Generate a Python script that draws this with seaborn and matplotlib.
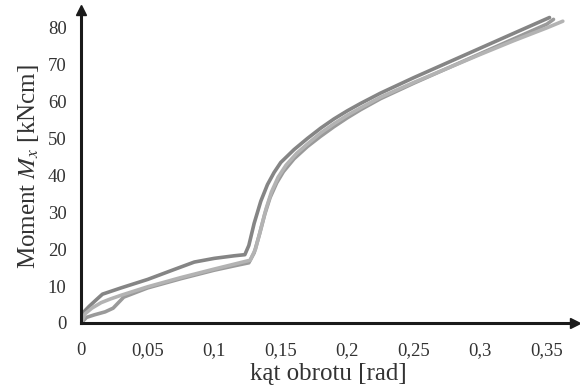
import matplotlib
matplotlib.use('Agg')
import matplotlib.pyplot as plt
import pandas as pd
import seaborn as sns

# three test specimens
x_a = [0, 0.002, 0.006, 0.012, 0.016, 0.03, 0.05, 0.07, 0.085, 0.1, 0.115, 0.123,
       0.126, 0.13, 0.135, 0.14, 0.145, 0.15, 0.16, 0.17, 0.18, 0.19, 0.2, 0.21,
       0.225, 0.25, 0.275, 0.3, 0.325, 0.352]
y_a = [0, 3, 4.5, 6.5, 7.8, 9.5, 11.8, 14.5, 16.5, 17.5, 18.2, 18.5,
       21, 27, 33, 37.5, 40.8, 43.5, 47, 50, 52.8, 55.3, 57.5, 59.5,
       62.3, 66.5, 70.5, 74.5, 78.5, 82.8]

x_b = [0, 0.004, 0.01, 0.018, 0.024, 0.028, 0.032, 0.05, 0.075, 0.1, 0.118, 0.126,
       0.13, 0.134, 0.138, 0.142, 0.147, 0.152, 0.16, 0.17, 0.18, 0.19, 0.2, 0.21,
       0.225, 0.25, 0.275, 0.3, 0.325, 0.35, 0.355]
y_b = [0, 1.5, 2.2, 3, 4, 5.5, 7, 9.5, 12, 14.3, 15.7, 16.3,
       19, 24, 29.5, 34, 38, 41, 44.5, 47.8, 50.6, 53.2, 55.6, 57.8,
       60.8, 65, 69, 73, 77, 81, 82.3]

x_c = [0, 0.003, 0.008, 0.015, 0.022, 0.03, 0.05, 0.075, 0.1, 0.118, 0.127, 0.131,
       0.135, 0.139, 0.143, 0.148, 0.154, 0.162, 0.17, 0.18, 0.19, 0.2, 0.21,
       0.225, 0.25, 0.275, 0.3, 0.325, 0.35, 0.362]
y_c = [0, 2.5, 4, 5.5, 6.5, 7.5, 9.8, 12.3, 14.6, 16.2, 17, 20,
       25.5, 31, 35.5, 39.5, 42.8, 46, 48.5, 51.5, 54, 56.3, 58.3,
       61.2, 65.2, 69, 72.8, 76.5, 80, 81.8]

x_ticks = [0, 0.05, 0.1, 0.15, 0.2, 0.25, 0.3, 0.35]
x_tick_labels = ['0', '0,05', '0,1', '0,15', '0,2', '0,25', '0,3', '0,35']
y_ticks = [0, 10, 20, 30, 40, 50, 60, 70, 80]

df = pd.concat([
    pd.DataFrame({'x': x_a, 'y': y_a, 'probka': 'A'}),
    pd.DataFrame({'x': x_b, 'y': y_b, 'probka': 'B'}),
    pd.DataFrame({'x': x_c, 'y': y_c, 'probka': 'C'}),
])

sns.set_style('white')
plt.rcParams['font.family'] = ['Liberation Serif', 'DejaVu Serif']
plt.rcParams['mathtext.fontset'] = 'stix'

fig = plt.figure(figsize=(5.8, 3.9), dpi=100)
ax = fig.add_axes([0.14, 0.172, 0.851, 0.802])

sns.lineplot(
    data=df, x='x', y='y', hue='probka',
    palette={'A': '#858585', 'B': '#9a9a9a', 'C': '#b3b3b3'},
    sort=False, estimator=None, linewidth=2.6, legend=False, ax=ax
)

ax.set_xlim(0, 0.371)
ax.set_ylim(0, 84.8)
ax.set_xticks(x_ticks)
ax.set_xticklabels(x_tick_labels)
ax.set_yticks(y_ticks)

for side in ['top', 'right']:
    ax.spines[side].set_visible(False)
for side in ['left', 'bottom']:
    ax.spines[side].set_linewidth(2.2)
    ax.spines[side].set_color('#1a1a1a')

ax.tick_params(axis='both', direction='inout', length=9, width=2.2,
               color='#1a1a1a', labelsize=13.5, labelcolor='#333333')
ax.tick_params(axis='x', pad=9)
ax.tick_params(axis='y', pad=6)

# arrow heads on the axes
ax.plot(1, 0, '>', color='#1a1a1a', markersize=7, transform=ax.transAxes, clip_on=False)
ax.plot(0, 1, '^', color='#1a1a1a', markersize=7, transform=ax.transAxes, clip_on=False)

ax.set_xlabel('kąt obrotu [rad]', fontsize=18, color='#333333', labelpad=3)
ax.set_ylabel('Moment $M_x$ [kNcm]', fontsize=18, color='#333333', labelpad=5)

plt.savefig('out.png', dpi=100)
